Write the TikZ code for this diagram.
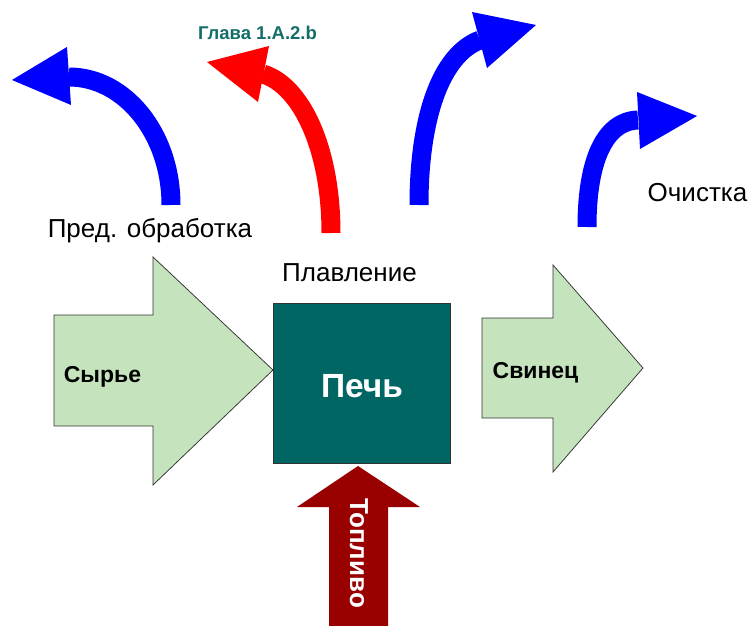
\documentclass[tikz,border=0pt]{standalone}
\usepackage{fontspec}
\setmainfont{Liberation Sans}
\definecolor{arrowgreen}{RGB}{197,228,189}
\definecolor{furnace}{RGB}{0,102,100}
\definecolor{fuelred}{RGB}{153,0,0}
\definecolor{flowblue}{RGB}{0,0,255}
\definecolor{flowred}{RGB}{255,0,0}
\definecolor{chapter}{RGB}{20,110,104}
\begin{document}
\begin{tikzpicture}[x=1pt,y=-1pt,
  lbl/.style={font=\fontsize{26}{30}\selectfont, anchor=base, inner sep=0pt},
  blbl/.style={font=\fontsize{23}{27}\selectfont\bfseries, anchor=base, inner sep=0pt},
  blockarrow/.style={fill=arrowgreen, draw=black!80, line width=0.75pt, line join=miter},
  bendshaft/.style={line width=19pt},
  ]
\useasboundingbox (0,0) rectangle (750,626);

% block arrows
\draw[blockarrow] (54,315) -- (153,315) -- (153,257) -- (273,370) -- (153,485) -- (153,426) -- (54,426) -- cycle;
\draw[blockarrow] (482,318) -- (553,318) -- (553,265) -- (643,368) -- (553,472) -- (553,418) -- (482,418) -- cycle;

% furnace
\node[draw=black!80, fill=furnace, minimum width=177pt, minimum height=160pt, inner sep=0pt, line width=0.75pt] (furnace) at (361.5,383) {};
\node[font=\fontsize{33.5}{38}\selectfont\bfseries, text=white, anchor=base, inner sep=0pt] (pech) at (362,397) {Печь};

% fuel arrow
\fill[fuelred] (358,466) -- (420,507) -- (388,507) -- (388,626) -- (329,626) -- (329,507) -- (297,507) -- cycle;
\node[font=\fontsize{26}{30}\selectfont\bfseries, text=white, rotate=-90, inner sep=0pt] (fuel) at (359,553) {Топливо};

% curved flow arrows
\coordinate (b1s) at (171,205); \coordinate (b1b) at (69,77);
\draw[bendshaft, flowblue] (b1s) .. controls (171,134) and (125,77) .. (b1b);
\fill[flowblue] (67,47) -- (12,80) -- (71,105) -- cycle;

\coordinate (r1s) at (331,233); \coordinate (r1b) at (263,74);
\draw[bendshaft, flowred] (r1s) .. controls (331,150) and (302,86) .. (r1b);
\fill[flowred] (269,46) -- (207,62) -- (258,102) -- cycle;

\coordinate (b2s) at (419,205); \coordinate (b2b) at (480,40);
\draw[bendshaft, flowblue] (b2s) .. controls (419,120) and (440,55) .. (b2b);
\fill[flowblue] (472,12) -- (536,25) -- (487,68) -- cycle;

\coordinate (b3s) at (587,227); \coordinate (b3b) at (638,120);
\draw[bendshaft, flowblue] (b3s) .. controls (587,160) and (605,121) .. (b3b);
\fill[flowblue] (637,92) -- (697,116) -- (640,149) -- cycle;

% labels
\node[lbl] (pre) at (150,237) {Пред. обработка};
\node[lbl] (melt) at (349.5,281) {Плавление};
\node[lbl] (clean) at (697.5,201) {Очистка};
\node[font=\fontsize{18.5}{21}\selectfont\bfseries, text=chapter, anchor=base, inner sep=0pt] (chap) at (257.5,40) {Глава 1.A.2.b};
\node[blbl] (raw) at (102.5,382) {Сырье};
\node[blbl] (lead) at (535.5,378) {Свинец};
\end{tikzpicture}
\end{document}
